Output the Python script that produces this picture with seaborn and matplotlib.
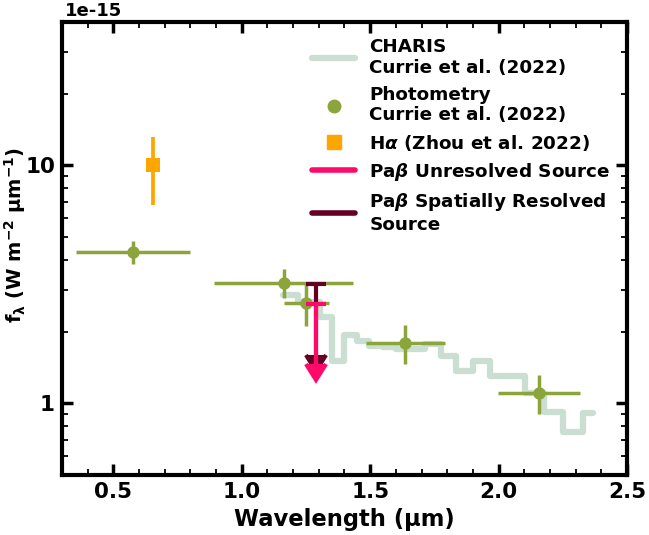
import numpy as np
import pandas as pd
import matplotlib
matplotlib.use("Agg")
import matplotlib.pyplot as plt
import seaborn as sns
from matplotlib.lines import Line2D
from matplotlib.ticker import MultipleLocator, FuncFormatter, NullFormatter, LogLocator

# Fluxes are in units of 1e-15 W m^-2 um^-1, wavelengths in um.

# CHARIS low-resolution spectrum (channel centres) - Currie et al. (2022)
charis_wave = [1.1596, 1.1997, 1.2412, 1.2842, 1.3286, 1.3746, 1.4222, 1.4714,
               1.5224, 1.5750, 1.6296, 1.6860, 1.7443, 1.8047, 1.8672, 1.9318,
               1.9987, 2.0678, 2.1394, 2.2135, 2.2901, 2.3693]
charis_flux = [2.86, 2.86, 2.66, 2.66, 2.30, 1.51, 1.94, 1.83,
               1.74, 1.72, 1.69, 1.69, 1.77, 1.58, 1.37, 1.51,
               1.30, 1.30, 1.11, 0.92, 0.76, 0.91]

# Broadband photometry - Currie et al. (2022)
phot_wave = [0.576, 1.164, 1.252, 1.637, 2.157]
phot_wave_err = [0.222, 0.271, 0.086, 0.155, 0.160]
phot_flux = [4.33, 3.21, 2.64, 1.80, 1.11]
phot_flux_err = [0.48, 0.45, 0.52, 0.33, 0.21]

# H-alpha (Zhou et al. 2022)
ha_wave = [0.656]
ha_flux = [10.0]
ha_flux_err = [3.2]

# Pa-beta upper limits
pab_wave = [1.29]
pab_unres_flux = [2.62]
pab_unres_err = [1.15]
pab_res_flux = [3.17]
pab_res_err = [1.58]

C_CHARIS = "#cadfd2"
C_PHOT = "#8ca43c"
C_HA = "#ffa500"
C_UNRES = "#ff0a6a"
C_RES = "#640022"

sns.set_style("ticks")
plt.rcParams.update({
    "font.family": ["DejaVu Sans"],
    "font.weight": "bold",
    "axes.labelweight": "bold",
    "axes.linewidth": 3,
    "axes.edgecolor": "black",
    "axes.labelcolor": "black",
    "text.color": "black",
    "xtick.color": "black",
    "ytick.color": "black",
    "mathtext.default": "regular",
})

fig = plt.figure(figsize=(6.49, 5.35), dpi=100)
ax = fig.add_axes([0.0955, 0.1121, 0.8706, 0.8468])

charis = pd.DataFrame({"wave": charis_wave, "flux": charis_flux})
sns.lineplot(data=charis, x="wave", y="flux", ax=ax, color=C_CHARIS, lw=4.5,
             drawstyle="steps-mid", estimator=None, sort=False, zorder=1)

ax.errorbar(phot_wave, phot_flux, xerr=phot_wave_err, yerr=phot_flux_err,
            fmt="none", ecolor=C_PHOT, elinewidth=2.5, zorder=2)
sns.scatterplot(x=phot_wave, y=phot_flux, ax=ax, color=C_PHOT, marker="o",
                s=80, edgecolor=C_PHOT, linewidth=0, zorder=3)

ax.errorbar(ha_wave, ha_flux, yerr=ha_flux_err, fmt="none", ecolor=C_HA,
            elinewidth=2.7, zorder=2)
sns.scatterplot(x=ha_wave, y=ha_flux, ax=ax, color=C_HA, marker="s",
                s=100, edgecolor=C_HA, linewidth=0, zorder=3)


def upper_limit(flux, err, color, z):
    """Draw a Pa-beta upper limit: cap at the value, arrow pointing down."""
    _, caps, _ = ax.errorbar(pab_wave, flux, yerr=err, uplims=True, fmt="none",
                             ecolor=color, elinewidth=3, capsize=7.5,
                             capthick=3, zorder=z)
    for cap in caps:
        cap.set_markerfacecolor(color)
        cap.set_markeredgecolor(color)


upper_limit(pab_res_flux, pab_res_err, C_RES, 4)
upper_limit(pab_unres_flux, pab_unres_err, C_UNRES, 5)

ax.set_yscale("log")
ax.set_xlim(0.3, 2.5)
ax.set_ylim(0.5, 40)
ax.xaxis.set_major_locator(MultipleLocator(0.5))
ax.xaxis.set_minor_locator(MultipleLocator(0.1))
ax.yaxis.set_major_locator(LogLocator(base=10))
ax.yaxis.set_minor_locator(LogLocator(base=10, subs=np.arange(2, 10)))
ax.yaxis.set_major_formatter(FuncFormatter(lambda v, _: f"{v:g}"))
ax.yaxis.set_minor_formatter(NullFormatter())

ax.tick_params(which="both", direction="in", top=True, right=True)
ax.tick_params(which="major", length=8, width=2.5, labelsize=15.5, pad=5)
ax.tick_params(which="minor", length=4.5, width=1.3)
for lab in ax.get_xticklabels() + ax.get_yticklabels():
    lab.set_fontweight("bold")

ax.text(0.006, 1.004, "1e-15", transform=ax.transAxes, ha="left", va="bottom",
        fontsize=13, fontweight="bold")

ax.set_xlabel("Wavelength (µm)", fontsize=16.3, labelpad=4)
ax.set_ylabel(r"$\mathbf{f_{\lambda}}$ (W m$^{\mathbf{-2}}$ µm$^{\mathbf{-1}}$)",
              fontsize=14)
ax.yaxis.set_label_coords(-0.06, 0.53)

handles = [
    Line2D([], [], color=C_CHARIS, lw=4.5, label="CHARIS\nCurrie et al. (2022)"),
    Line2D([], [], ls="none", marker="o", ms=9, color=C_PHOT,
           label="Photometry\nCurrie et al. (2022)"),
    Line2D([], [], ls="none", marker="s", ms=9.5, color=C_HA,
           label=r"H$\it{\alpha}$ (Zhou et al. 2022)"),
    Line2D([], [], color=C_UNRES, lw=4, label=r"Pa$\it{\beta}$ Unresolved Source"),
    Line2D([], [], color=C_RES, lw=4, label="Pa$\\it{\\beta}$ Spatially Resolved\nSource"),
]
ax.legend(handles=handles, loc="upper right", frameon=False,
          handlelength=2.35, labelspacing=0.45, handletextpad=0.75,
          borderaxespad=0.5, prop={"size": 13.2, "weight": "bold"})

fig.savefig("out.png", dpi=100)
